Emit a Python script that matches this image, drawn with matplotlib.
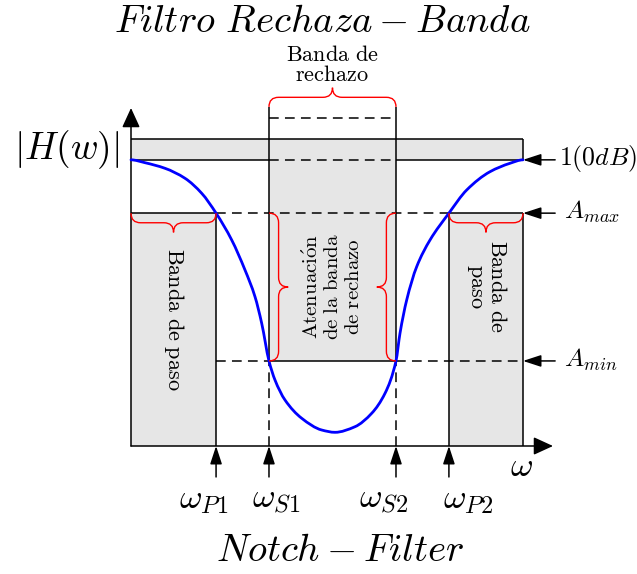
import numpy as np
import matplotlib
matplotlib.use("Agg")
import matplotlib.pyplot as plt
from matplotlib.path import Path
from matplotlib.patches import PathPatch, Rectangle

plt.rcParams["mathtext.fontset"] = "cm"
plt.rcParams["lines.scale_dashes"] = False

# Frequency markers on the omega axis (diagram units)
w_marks = [2.17, 3.52, 6.76, 8.11]
w_labels = [r"$\omega_{P1}$", r"$\omega_{S1}$", r"$\omega_{S2}$", r"$\omega_{P2}$"]
w_end = 10.0

# Magnitude levels
level_one = 7.30
a_max = 5.94
a_min = 2.17
band_top = 7.83
reject_top = 8.37
brace_base = 8.65
level_labels = [r"$1(0dB)$", r"$A_{max}$", r"$A_{min}$"]

# Sampled magnitude response |H(w)| of the notch filter
curve_w = [0.000, 0.357, 0.867, 1.378, 1.804, 2.17, 2.569, 2.908, 3.163, 3.334,
           3.52, 3.673, 3.929, 4.355, 4.865, 5.204, 5.714, 6.140, 6.480, 6.76,
           6.862, 7.033, 7.288, 7.628, 8.11, 8.564, 9.158, 9.668, 10.0]
curve_h = [7.30, 7.227, 7.084, 6.829, 6.446, 5.94, 5.255, 4.490, 3.809, 3.130,
           2.17, 1.684, 1.173, 0.707, 0.408, 0.349, 0.492, 0.834, 1.344, 2.17,
           2.875, 3.724, 4.574, 5.255, 5.94, 6.531, 6.997, 7.212, 7.30]

PX = 39.2  # pixels per diagram unit
GRAY = "#e6e6e6"
LW = 1.1
DASH = (0, (7, 4.5))

fig = plt.figure(figsize=(6.37, 5.74), dpi=100)
ax = fig.add_axes([0, 0, 1, 1])
ax.set_xlim(-131 / PX, 506 / PX)
ax.set_ylim(-128 / PX, 446 / PX)
ax.axis("off")

wp1, ws1, ws2, wp2 = w_marks

# Shaded regions
ax.add_patch(Rectangle((0, level_one), w_end, band_top - level_one, fc=GRAY, ec="none", zorder=1))
ax.add_patch(Rectangle((ws1, a_min), ws2 - ws1, level_one - a_min, fc=GRAY, ec="none", zorder=1))
ax.add_patch(Rectangle((0, 0), wp1, a_max, fc=GRAY, ec="none", zorder=1))
ax.add_patch(Rectangle((wp2, 0), w_end - wp2, a_max, fc=GRAY, ec="none", zorder=1))


def solid(xs, ys):
    ax.plot(xs, ys, color="black", lw=LW, solid_capstyle="butt", zorder=2)


def dashed(xs, ys):
    ax.plot(xs, ys, color="black", lw=LW, ls=DASH, dash_capstyle="butt", zorder=2)


# Upper band outline
solid([0, w_end], [band_top, band_top])
solid([w_end, w_end], [level_one, band_top])
solid([0, ws1], [level_one, level_one])
dashed([ws1, ws2], [level_one, level_one])
solid([ws2, w_end], [level_one, level_one])
dashed([ws1, ws2], [reject_top, reject_top])

# A_max line and passband boxes
solid([0, wp1], [a_max, a_max])
dashed([wp1, wp2], [a_max, a_max])
solid([wp2, w_end], [a_max, a_max])
solid([wp1, wp1], [0, a_max])
solid([wp2, wp2], [0, a_max])
solid([w_end, w_end], [0, a_max])

# A_min line and stopband edges
dashed([wp1, ws1], [a_min, a_min])
solid([ws1, ws2], [a_min, a_min])
dashed([ws2, w_end], [a_min, a_min])
for w in (ws1, ws2):
    solid([w, w], [a_min, brace_base])
    dashed([w, w], [0, a_min])

# Axes with arrows
big_arrow = dict(arrowstyle="-|>,head_length=1.2,head_width=0.55",
                 lw=LW, color="black", shrinkA=0, shrinkB=0)
ax.annotate("", xy=(0, 338 / PX), xytext=(0, 0), arrowprops=big_arrow, zorder=3)
ax.annotate("", xy=(422 / PX, 0), xytext=(0, 0), arrowprops=big_arrow, zorder=3)

small_arrow = dict(arrowstyle="-|>,head_length=1.1,head_width=0.36",
                   lw=LW, color="black", shrinkA=0, shrinkB=0)

# Level markers on the right
label_x = [w_end + 0.93, w_end + 1.05, w_end + 1.05]
for lvl, lab, lx in zip([level_one, a_max, a_min], level_labels, label_x):
    ax.annotate("", xy=(w_end, lvl), xytext=(w_end + 0.82, lvl), arrowprops=small_arrow)
    ax.text(lx, lvl + 0.03, lab, fontsize=18.5, ha="left", va="center")

# Frequency markers below the axis
label_shift = [-0.32, 0.19, -0.32, 0.50]
for w, lab, dx in zip(w_marks, w_labels, label_shift):
    ax.annotate("", xy=(w, 0), xytext=(w, -0.79), arrowprops=small_arrow)
    ax.text(w + dx, -1.36, lab, fontsize=25, ha="center", va="center")

# Magnitude response as a smooth monotone cubic path
xw = np.asarray(curve_w)
yh = np.asarray(curve_h)
hs = np.diff(xw)
delta = np.diff(yh) / hs
slopes = np.zeros_like(xw)
for k in range(1, len(xw) - 1):
    if delta[k - 1] * delta[k] > 0:
        w1 = 2 * hs[k] + hs[k - 1]
        w2 = hs[k] + 2 * hs[k - 1]
        slopes[k] = (w1 + w2) / (w1 / delta[k - 1] + w2 / delta[k])
verts = [(xw[0], yh[0])]
codes = [Path.MOVETO]
for k in range(len(xw) - 1):
    h3 = hs[k] / 3
    verts += [(xw[k] + h3, yh[k] + slopes[k] * h3),
              (xw[k + 1] - h3, yh[k + 1] - slopes[k + 1] * h3),
              (xw[k + 1], yh[k + 1])]
    codes += [Path.CURVE4] * 3
ax.add_patch(PathPatch(Path(verts, codes), fc="none", ec="#0000ff", lw=2.0,
                       capstyle="round", zorder=4))


def brace(p_start, p_end, amp):
    """Curly brace from p_start to p_end; positive amp bulges to the left of travel."""
    p_start, p_end = np.asarray(p_start, float), np.asarray(p_end, float)
    d = p_end - p_start
    L = np.hypot(*d)
    t = d / L
    nrm = np.array([-t[1], t[0]])
    h = amp / 2
    r = abs(amp) / 2
    local = [(0, 0), (0, h), (r, h), (L / 2 - r, h), (L / 2, h), (L / 2, amp),
             (L / 2, h), (L / 2 + r, h), (L - r, h), (L, h), (L, 0)]
    cds = [Path.MOVETO, Path.CURVE3, Path.CURVE3, Path.LINETO, Path.CURVE3, Path.CURVE3,
           Path.CURVE3, Path.CURVE3, Path.LINETO, Path.CURVE3, Path.CURVE3]
    vv = [p_start + u * t + v * nrm for u, v in local]
    ax.add_patch(PathPatch(Path(vv, cds), fc="none", ec="red", lw=1.0, zorder=5))


amp = 0.49
brace((ws1, brace_base), (ws2, brace_base), amp)      # above the stopband
brace((0, a_max), (wp1, a_max), -amp)                 # under left passband top
brace((wp2, a_max), (w_end, a_max), -amp)             # under right passband top
brace((ws1, a_max), (ws1, a_min), amp)                # left side of attenuation
brace((ws2, a_max), (ws2, a_min), -amp)               # right side of attenuation

# Text
ax.text(4.87, 10.84, r"$Filtro\ Rechaza - Banda$", fontsize=28, ha="center", va="center")
ax.text(5.33, -2.66, r"$Notch - Filter$", fontsize=28, ha="center", va="center")
ax.text(-1.63, 7.55, r"$|H(w)|$", fontsize=27, ha="center", va="center")
ax.text(9.97, -0.52, r"$\omega$", fontsize=25, ha="center", va="center")

ax.text((ws1 + ws2) / 2, 9.71, "$\\mathrm{Banda\\ de}$\n$\\mathrm{rechazo}$",
        fontsize=16, ha="center", va="center", linespacing=1.0)
ax.text(wp1 / 2 + 0.02, 3.24, r"$\mathrm{Banda\ de\ paso}$", fontsize=16,
        ha="center", va="center", rotation=-90)
ax.text((wp2 + w_end) / 2, 4.06, "$\\mathrm{Banda\\ de}$\n$\\mathrm{paso}$", fontsize=16,
        ha="center", va="center", rotation=-90, linespacing=1.0)
ax.text((ws1 + ws2) / 2, 4.06,
        "$\\mathrm{Atenuaci\\acute{o}n}$\n$\\mathrm{de\\ la\\ banda}$\n$\\mathrm{de\\ rechazo}$",
        fontsize=15, ha="center", va="center", rotation=90, linespacing=1.05)

fig.savefig("out.png", dpi=100)
